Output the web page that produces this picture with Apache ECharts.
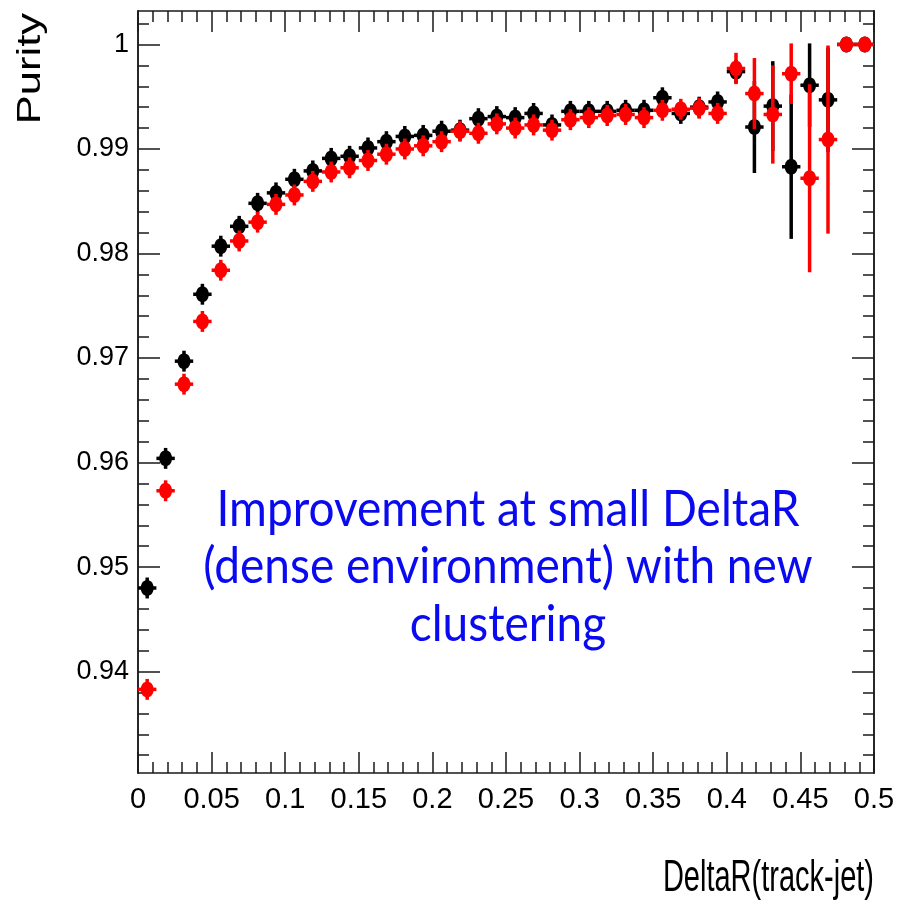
<!DOCTYPE html>
<html>
<head>
<meta charset="utf-8">
<title>Purity vs DeltaR(track-jet)</title>
<script src="https://cdn.jsdelivr.net/npm/echarts@6/dist/echarts.min.js"></script>
<style>
  html, body { margin: 0; padding: 0; background: #fff; }
  #chart { width: 912px; height: 905px; }
</style>
</head>
<body>
<div id="chart"></div>
<script>
// Bin centres of the DeltaR(track-jet) histogram (40 bins of width 0.0125)
const binWidth = 0.0125;
const binCenters = [
  0.00625, 0.01875, 0.03125, 0.04375, 0.05625, 0.06875, 0.08125, 0.09375,
  0.10625, 0.11875, 0.13125, 0.14375, 0.15625, 0.16875, 0.18125, 0.19375,
  0.20625, 0.21875, 0.23125, 0.24375, 0.25625, 0.26875, 0.28125, 0.29375,
  0.30625, 0.31875, 0.33125, 0.34375, 0.35625, 0.36875, 0.38125, 0.39375,
  0.40625, 0.41875, 0.43125, 0.44375, 0.45625, 0.46875, 0.48125, 0.49375
];

// Purity, old clustering (black)
const purityOld = [
  0.9480, 0.9604, 0.9697, 0.9761, 0.9807, 0.9826, 0.9848, 0.9858,
  0.9871, 0.9879, 0.9891, 0.9893, 0.9901, 0.9907, 0.9912, 0.9913,
  0.9917, 0.9918, 0.9929, 0.9931, 0.9930, 0.9934, 0.9923, 0.9936,
  0.9936, 0.9936, 0.9937, 0.9937, 0.9949, 0.9934, 0.9940, 0.9945,
  0.9974, 0.9921, 0.9941, 0.9883, 0.9961, 0.9947, 1.0000, 1.0000
];
const errOld = [
  0.0010, 0.0010, 0.0010, 0.0010, 0.0010, 0.0010, 0.0010, 0.0010,
  0.0010, 0.0010, 0.0010, 0.0010, 0.0010, 0.0010, 0.0010, 0.0010,
  0.0010, 0.0010, 0.0010, 0.0010, 0.0010, 0.0010, 0.0010, 0.0010,
  0.0010, 0.0010, 0.0010, 0.0010, 0.0010, 0.0010, 0.0010, 0.0010,
  0.0011, 0.0044, 0.0043, 0.0069, 0.0040, 0.0050, 0.0000, 0.0000
];

// Purity, new clustering (red)
const purityNew = [
  0.9383, 0.9573, 0.9675, 0.9735, 0.9784, 0.9812, 0.9830, 0.9847,
  0.9856, 0.9869, 0.9878, 0.9882, 0.9889, 0.9895, 0.9900, 0.9903,
  0.9907, 0.9917, 0.9915, 0.9924, 0.9920, 0.9923, 0.9918, 0.9928,
  0.9930, 0.9932, 0.9933, 0.9930, 0.9937, 0.9938, 0.9939, 0.9934,
  0.9977, 0.9953, 0.9933, 0.9972, 0.9872, 0.9909, 1.0000, 1.0000
];
const errNew = [
  0.0010, 0.0010, 0.0010, 0.0010, 0.0010, 0.0010, 0.0010, 0.0010,
  0.0010, 0.0010, 0.0010, 0.0010, 0.0010, 0.0010, 0.0010, 0.0010,
  0.0010, 0.0010, 0.0010, 0.0010, 0.0010, 0.0010, 0.0010, 0.0010,
  0.0010, 0.0010, 0.0010, 0.0010, 0.0010, 0.0010, 0.0010, 0.0010,
  0.0015, 0.0034, 0.0047, 0.0029, 0.0090, 0.0090, 0.0000, 0.0000
];

// Axis ranges and tick values
const xRange = [0, 0.5];
const yRange = [0.9303, 1.0032];
const yMajorTicks = [0.94, 0.95, 0.96, 0.97, 0.98, 0.99, 1.00];
const yMinorTicks = [
  0.932, 0.934, 0.936, 0.938, 0.942, 0.944, 0.946, 0.948,
  0.952, 0.954, 0.956, 0.958, 0.962, 0.964, 0.966, 0.968,
  0.972, 0.974, 0.976, 0.978, 0.982, 0.984, 0.986, 0.988,
  0.992, 0.994, 0.996, 0.998, 1.002
];

const xTitle = 'DeltaR(track-jet)';
const yTitle = 'Purity';
const noteText = 'Improvement at small DeltaR\n(dense environment) with new\nclustering';

const tickFont = '"Liberation Sans", Arial, sans-serif';
const frameColor = '#1a1a1a';

function points(values, errs) {
  return binCenters.map((x, i) => [x, values[i], errs[i]]);
}

// ROOT-style marker: filled dot with bin-width bar and vertical error bar
function errorMarker(color) {
  return function (params, api) {
    const x = api.value(0), y = api.value(1), e = api.value(2);
    const c = api.coord([x, y]);
    const left = api.coord([x - binWidth / 2, y])[0];
    const right = api.coord([x + binWidth / 2, y])[0];
    const top = api.coord([x, y + e])[1];
    const bot = api.coord([x, y - e])[1];
    return {
      type: 'group',
      children: [
        { type: 'line', shape: { x1: left, y1: c[1], x2: right, y2: c[1] },
          style: { stroke: color, lineWidth: 3.5 } },
        { type: 'line', shape: { x1: c[0], y1: top, x2: c[0], y2: bot },
          style: { stroke: color, lineWidth: 3.5 } },
        { type: 'ellipse', shape: { cx: c[0], cy: c[1], rx: 6.5, ry: 8 },
          style: { fill: color } }
      ]
    };
  };
}

function yAxisDef(position, ticks, len, labels) {
  return {
    type: 'value',
    position: position,
    min: yRange[0],
    max: yRange[1],
    axisLine: { show: true, lineStyle: { color: frameColor, width: 1.5 } },
    axisTick: {
      show: true, inside: true, length: len, customValues: ticks,
      lineStyle: { color: frameColor, width: 1.5 }
    },
    axisLabel: labels ? {
      show: true, customValues: ticks, margin: 9,
      fontFamily: tickFont, fontSize: 27, color: '#000',
      formatter: v => (Math.abs(v - 1) < 1e-9 ? '1' : v.toFixed(2))
    } : { show: false },
    splitLine: { show: false }
  };
}

function xAxisDef(position, labels) {
  return {
    type: 'value',
    position: position,
    min: xRange[0],
    max: xRange[1],
    interval: 0.05,
    axisLine: { show: true, onZero: false, lineStyle: { color: frameColor, width: 1.5 } },
    axisTick: { show: true, inside: true, length: 21, lineStyle: { color: frameColor, width: 1.5 } },
    minorTick: { show: true, splitNumber: 5, length: 11, lineStyle: { color: frameColor, width: 1.5 } },
    axisLabel: labels ? {
      show: true, margin: 12, fontFamily: tickFont, fontSize: 29, color: '#000',
      formatter: v => String(+v.toFixed(2))
    } : { show: false },
    splitLine: { show: false }
  };
}

const chart = echarts.init(document.getElementById('chart'), null, { renderer: 'canvas' });

chart.setOption({
  animation: false,
  backgroundColor: '#fff',
  grid: { left: 138, right: 38, top: 11, bottom: 132, containLabel: false },
  xAxis: [xAxisDef('bottom', true), xAxisDef('top', false)],
  yAxis: [
    yAxisDef('left', yMajorTicks, 22, true),
    yAxisDef('left', yMinorTicks, 11, false),
    yAxisDef('right', yMajorTicks, 22, false),
    yAxisDef('right', yMinorTicks, 11, false)
  ],
  series: [
    {
      name: 'old clustering', type: 'custom', xAxisIndex: 0, yAxisIndex: 0,
      renderItem: errorMarker('#000000'), data: points(purityOld, errOld), z: 2
    },
    {
      name: 'new clustering', type: 'custom', xAxisIndex: 0, yAxisIndex: 0,
      renderItem: errorMarker('#ff0000'), data: points(purityNew, errNew), z: 3
    }
  ],
  graphic: [
    {
      type: 'text', x: 31, y: 13, rotation: Math.PI / 2, scaleX: 1.28,
      style: {
        text: yTitle, textAlign: 'right', textVerticalAlign: 'middle',
        fontFamily: tickFont, fontSize: 34, fill: '#000'
      }
    },
    {
      type: 'text', x: 874, y: 879, scaleY: 1.55,
      style: {
        text: xTitle, textAlign: 'right', textVerticalAlign: 'middle',
        fontFamily: tickFont, fontSize: 29, fill: '#000'
      }
    },
    {
      type: 'text', x: 508, y: 567, scaleY: 1.1,
      style: {
        text: noteText, textAlign: 'center', textVerticalAlign: 'middle',
        fontFamily: 'Lato, "Open Sans", sans-serif', fontSize: 46, lineHeight: 52,
        fill: '#0a0af0'
      }
    }
  ]
});
</script>
</body>
</html>
